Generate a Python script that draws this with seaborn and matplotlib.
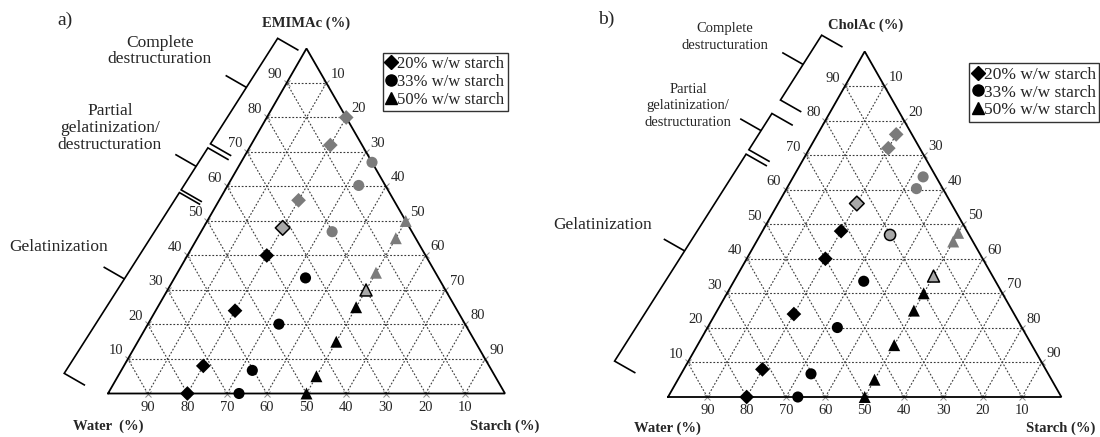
import numpy as np
import pandas as pd
import seaborn as sns
import matplotlib.pyplot as plt
from matplotlib.lines import Line2D

# ---- data (IL content in %, starch fixed per series) ----
SERIES = ["20% w/w starch", "33% w/w starch", "50% w/w starch"]
STARCH = [20, 33, 50]

# a) EMIMAc
a_il_20 = [0, 8, 24, 40, 48, 56, 72, 80]
a_state_20 = ["black", "black", "black", "black", "light", "grey", "grey", "grey"]
a_il_33 = [0, 6.7, 20.1, 33.5, 46.9, 60.3, 67]
a_state_33 = ["black", "black", "black", "black", "grey", "grey", "grey"]
a_il_50 = [0, 5, 15, 25, 30, 35, 45, 50]
a_state_50 = ["black", "black", "black", "black", "light", "grey", "grey", "grey"]

# b) CholAc
b_il_20 = [0, 8, 24, 40, 48, 56, 72, 76]
b_state_20 = ["black", "black", "black", "black", "black", "light", "grey", "grey"]
b_il_33 = [0, 6.7, 20.1, 33.5, 46.9, 60.3, 63.7]
b_state_33 = ["black", "black", "black", "black", "light", "grey", "grey"]
b_il_50 = [0, 5, 15, 25, 30, 35, 45, 47.5]
b_state_50 = ["black", "black", "black", "black", "black", "light", "grey", "grey"]

TICKS = [10, 20, 30, 40, 50, 60, 70, 80, 90]

# regions along the IL axis (fraction), (start, end, centre tick)
a_regions = [(0.672, 0.986, 0.84), (0.535, 0.660, 0.605), (-0.011, 0.527, 0.27)]
b_regions = [(0.789, 0.982, 0.895), (0.641, 0.749, 0.698), (0.012, 0.628, 0.34)]

MARKERS = {SERIES[0]: "D", SERIES[1]: "o", SERIES[2]: "^"}
SIZES = {SERIES[0]: 56, SERIES[1]: 64, SERIES[2]: 74}
PALETTE = {"black": "#000000", "grey": "#7b7b7b", "light": "#a8a8a8"}

W_PX, H_PX = 1100, 437
SQ3 = np.sqrt(3) / 2

sns.set_theme(style="white")
plt.rcParams['font.family'] = ['Liberation Serif', 'DejaVu Serif']


def build(ils, states):
    rows = []
    for name, st, il_list, st_list in zip(SERIES, STARCH, ils, states):
        for il, state in zip(il_list, st_list):
            c = il / 100
            s = st / 100
            rows.append({"series": name, "state": state, "x": s + c / 2, "y": c * SQ3})
    return pd.DataFrame(rows)


def fx(px):
    return px / W_PX


def fy(py):
    return 1 - py / H_PX


def bracket(ax, sx, sy, t0, t1, tm, off0, off1, tick=24):
    ex, ey = 0.5 * sx, SQ3 * sy
    L = np.hypot(ex, ey)
    ux, uy = ex / L, ey / L
    nx, ny = -uy, ux

    def p(t):
        o = off0 + (off1 - off0) * t
        return (t * ex + o * nx) / sx, (t * ey + o * ny) / sy

    def shift(pt, d):
        return pt[0] + d * nx / sx, pt[1] + d * ny / sy

    a = p(t0)
    b = p(t1)
    a2 = shift(a, -tick)
    b2 = shift(b, -tick)
    ax.plot([a2[0], a[0], b[0], b2[0]], [a2[1], a[1], b[1], b2[1]],
            color="black", lw=1.2, solid_joinstyle="miter", solid_capstyle="butt")
    m = p(tm)
    m2 = shift(m, tick)
    ax.plot([m[0], m2[0]], [m[1], m2[1]], color="black", lw=1.2, solid_capstyle="butt")


def draw_panel(fig, box, left, base, sx, sy, df, regions, off0, off1):
    ax = fig.add_axes([fx(box[0]), 0, fx(box[1] - box[0]), 1])
    ax.set_xlim((box[0] - left) / sx, (box[1] - left) / sx)
    ax.set_ylim(-(H_PX - base) / sy, base / sy)
    ax.axis("off")

    # grid
    grid_kw = dict(color="#3a3a3a", lw=0.8, dashes=(1.6, 1.6), zorder=1)
    for k in TICKS:
        f = k / 100
        ax.plot([f / 2, 1 - f / 2], [f * SQ3, f * SQ3], **grid_kw)
        ax.plot([f, f + (1 - f) / 2], [0, (1 - f) * SQ3], **grid_kw)
        ax.plot([1 - f, (1 - f) / 2], [0, (1 - f) * SQ3], **grid_kw)

    # tick crosses + labels
    for k in TICKS:
        f = k / 100
        # left edge: IL
        ax.plot(f / 2, f * SQ3, marker="x", ms=4, mew=0.7, color="#888888", zorder=2)
        ax.text(f / 2 - 12 / sx, f * SQ3 + 8 / sy, str(k), ha="center", va="center", fontsize=10.5)
        # right edge: starch
        ax.plot((1 + f) / 2, (1 - f) * SQ3, marker="x", ms=4, mew=0.7, color="#888888", zorder=2)
        ax.text((1 + f) / 2 + 12 / sx, (1 - f) * SQ3 + 8.5 / sy, str(k), ha="center", va="center", fontsize=10.5)
        # bottom: water
        ax.plot(1 - f, 0, marker="x", ms=4, mew=0.7, color="#888888", zorder=2)
        ax.text(1 - f, -14 / sy, str(k), ha="center", va="center", fontsize=10.5)

    # triangle
    ax.plot([0, 1, 0.5, 0], [0, 0, SQ3, 0], color="black", lw=1.3, zorder=3,
            solid_joinstyle="miter")

    # brackets
    for t0, t1, tm in regions:
        bracket(ax, sx, sy, t0, t1, tm, off0, off1)

    # samples
    plain = df[df["state"] != "light"]
    light = df[df["state"] == "light"]
    sns.scatterplot(data=plain, x="x", y="y", hue="state", style="series", size="series",
                    markers=MARKERS, sizes=SIZES, palette=PALETTE, edgecolor="none",
                    linewidth=0, legend=False, ax=ax, zorder=5)
    sns.scatterplot(data=light, x="x", y="y", hue="state", style="series", size="series",
                    markers=MARKERS, sizes=SIZES, palette=PALETTE, edgecolor="black",
                    linewidth=1.1, legend=False, ax=ax, zorder=5)
    return ax


def legend(ax, x_px, y_px, fontsize):
    handles = [Line2D([], [], marker=MARKERS[s], color="black", linestyle="none",
                      markersize=6.8 if MARKERS[s] == "D" else 8) for s in SERIES]
    leg = ax.legend(handles, SERIES, loc="upper left", bbox_to_anchor=(fx(x_px), fy(y_px)),
                    bbox_transform=ax.figure.transFigure, frameon=True, fancybox=False,
                    framealpha=1, edgecolor="#333333", handlelength=0.6, handletextpad=0.05,
                    borderpad=0.2, labelspacing=0.1, borderaxespad=0, fontsize=fontsize)
    leg.get_frame().set_linewidth(1.0)


fig = plt.figure(figsize=(11, 4.37), dpi=100)

df_a = build([a_il_20, a_il_33, a_il_50], [a_state_20, a_state_33, a_state_50])
df_b = build([b_il_20, b_il_33, b_il_50], [b_state_20, b_state_33, b_state_50])

ax_a = draw_panel(fig, (0, 550), 108, 393.5, 397, 398.4, df_a, a_regions, 47.8, 29.8)
ax_b = draw_panel(fig, (550, 1100), 668, 397, 393.4, 399, df_b, b_regions, 64.4, 45.1)

legend(ax_a, 383, 53, 12)
legend(ax_b, 969, 63, 12.5)

# panel a texts
fig.text(fx(65), fy(20), "a)", fontsize=14, ha="center", va="center")
fig.text(fx(306), fy(23), "EMIMAc (%)", fontsize=10.5, fontweight="bold", ha="center", va="center")
fig.text(fx(108), fy(426), "Water  (%)", fontsize=10.5, fontweight="bold", ha="center", va="center")
fig.text(fx(505), fy(426), "Starch (%)", fontsize=10.5, fontweight="bold", ha="center", va="center")
fig.text(fx(160), fy(51), "Complete\ndestructuration", fontsize=12.5, ha="center", va="center",
         linespacing=1.05)
fig.text(fx(110), fy(128), "Partial\ngelatinization/\ndestructuration", fontsize=12.5,
         ha="center", va="center", linespacing=1.05)
fig.text(fx(59), fy(247), "Gelatinization", fontsize=12.5, ha="center", va="center")

# panel b texts
fig.text(fx(606), fy(19), "b)", fontsize=14, ha="center", va="center")
fig.text(fx(866), fy(25), "CholAc (%)", fontsize=10.5, fontweight="bold", ha="center", va="center")
fig.text(fx(667.5), fy(428), "Water (%)", fontsize=10.5, fontweight="bold", ha="center", va="center")
fig.text(fx(1061), fy(428), "Starch (%)", fontsize=10.5, fontweight="bold", ha="center", va="center")
fig.text(fx(725), fy(37), "Complete\ndestructuration", fontsize=10.5, ha="center", va="center",
         linespacing=1.35)
fig.text(fx(688), fy(106), "Partial\ngelatinization/\ndestructuration", fontsize=10.5,
         ha="center", va="center", linespacing=1.35)
fig.text(fx(603), fy(225), "Gelatinization", fontsize=12.5, ha="center", va="center")

fig.savefig("out.png", dpi=100)
plt.close(fig)
